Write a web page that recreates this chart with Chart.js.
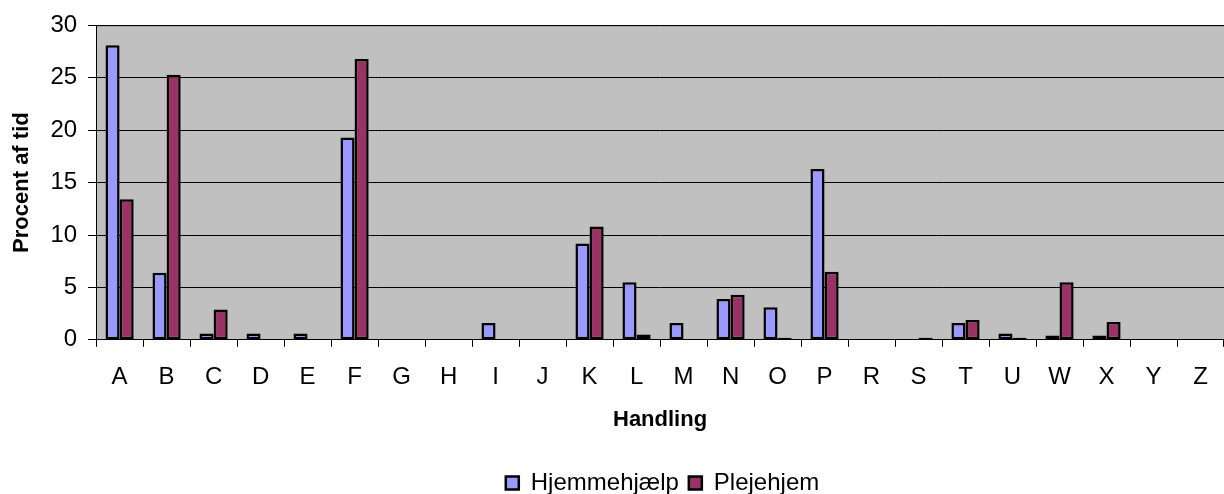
<!DOCTYPE html>
<html>
<head>
<meta charset="utf-8">
<script src="https://cdn.jsdelivr.net/npm/chart.js@4"></script>
<style>
  html, body { margin: 0; padding: 0; background: #fff; }
  #wrap { width: 1224px; height: 494px; }
</style>
</head>
<body>
<div id="wrap"><canvas id="graf" width="1224" height="494"></canvas></div>
<script>
const kategorier = ["A", "B", "C", "D", "E", "F", "G", "H", "I", "J", "K", "L", "M", "N", "O", "P", "R", "S", "T", "U", "W", "X", "Y", "Z"];
const hjemmehjaelp = [28.1, 6.4, 0.6, 0.6, 0.6, 19.3, 0, 0, 1.6, 0, 9.2, 5.5, 1.6, 3.9, 3.1, 16.3, 0, 0, 1.6, 0.6, 0.4, 0.4, 0, 0];
const plejehjem = [13.4, 25.3, 2.9, 0, 0, 26.8, 0, 0, 0, 0, 10.8, 0.5, 0, 4.3, 0.2, 6.5, 0, 0.2, 1.9, 0.2, 5.5, 1.7, 0, 0];
const yTicks = [0, 5, 10, 15, 20, 25, 30];

const baggrund = {
  id: "baggrund",
  beforeDraw(chart) {
    const { ctx, chartArea } = chart;
    ctx.save();
    ctx.fillStyle = "#C0C0C0";
    ctx.fillRect(chartArea.left, chartArea.top, chartArea.right - chartArea.left, chartArea.bottom - chartArea.top);
    ctx.strokeStyle = "#808080";
    ctx.lineWidth = 1;
    ctx.beginPath();
    ctx.moveTo(chartArea.left, chartArea.top + 0.5);
    ctx.lineTo(chartArea.right, chartArea.top + 0.5);
    ctx.stroke();
    ctx.restore();
  }
};

// legenden står lidt til højre for midten i originalen
const flytLegend = {
  id: "flytLegend",
  afterLayout(chart) {
    chart.legend.left += 46;
    chart.legend.right += 46;
  }
};

const familie = "'Liberation Sans', Arial, sans-serif";
const font = { family: familie, size: 24 };
const titelFont = { family: familie, size: 22, weight: "bold" };

new Chart(document.getElementById("graf").getContext("2d"), {
  type: "bar",
  data: {
    labels: kategorier,
    datasets: [
      {
        label: "Hjemmehjælp",
        data: hjemmehjaelp,
        backgroundColor: "#9999FF",
        borderColor: "#000",
        borderWidth: 2.5,
        borderSkipped: false
      },
      {
        label: "Plejehjem",
        data: plejehjem,
        backgroundColor: "#993366",
        borderColor: "#000",
        borderWidth: 2.5,
        borderSkipped: false
      }
    ]
  },
  options: {
    responsive: false,
    animation: false,
    datasets: { bar: { categoryPercentage: 0.6, barPercentage: 1 } },
    layout: { padding: { left: 9, right: 0, top: 25, bottom: -11 } },
    plugins: {
      legend: {
        position: "bottom",
        labels: {
          font: font,
          color: "#000",
          boxWidth: 13,
          boxHeight: 13,
          padding: 10
        }
      },
      tooltip: { enabled: false }
    },
    scales: {
      x: {
        offset: true,
        grid: {
          offset: true,
          drawOnChartArea: false,
          color: "#000",
          tickLength: 7
        },
        border: { color: "#000", width: 1 },
        ticks: { font: font, color: "#000", padding: 16 },
        title: {
          display: true,
          text: "Handling",
          font: titelFont,
          color: "#000",
          padding: { top: -1, bottom: 28 }
        }
      },
      y: {
        min: 0,
        max: 30,
        afterBuildTicks(axis) {
          axis.ticks = yTicks.map((v) => ({ value: v }));
        },
        grid: { color: "#000", tickLength: 8 },
        border: { color: "#000", width: 1 },
        ticks: { font: font, color: "#000", padding: 11 },
        title: {
          display: true,
          text: "Procent af tid",
          font: titelFont,
          color: "#000",
          padding: { top: 0, bottom: 4 }
        }
      }
    }
  },
  plugins: [baggrund, flytLegend]
});
</script>
</body>
</html>
